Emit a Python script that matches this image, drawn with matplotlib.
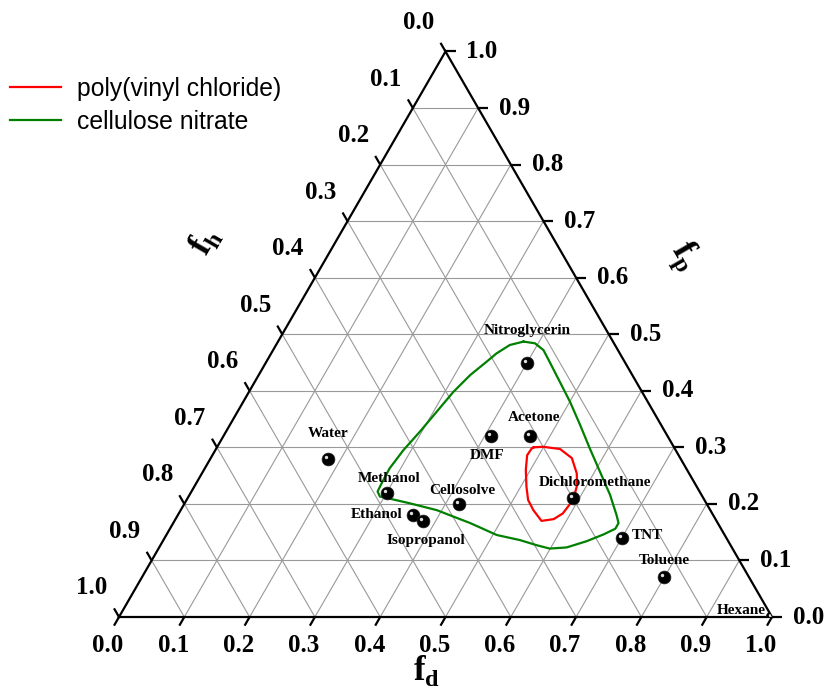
import numpy as np
import matplotlib
matplotlib.use("Agg")
import matplotlib.pyplot as plt
import matplotlib.transforms as mtransforms
from matplotlib.patches import Polygon

# ---------------- data ----------------
solvents = ["Water", "Methanol", "Ethanol", "Isopropanol", "Cellosolve", "DMF",
            "Acetone", "Nitroglycerin", "Dichloromethane", "TNT", "Toluene", "Hexane"]
solv_fd = [0.18, 0.30, 0.36, 0.38, 0.42, 0.41, 0.47, 0.40, 0.59, 0.70, 0.80, 1.00]
solv_fp = [0.28, 0.22, 0.18, 0.17, 0.20, 0.32, 0.32, 0.45, 0.21, 0.14, 0.07, 0.00]

pvc_fd = [0.485, 0.499, 0.527, 0.553, 0.574, 0.585, 0.592, 0.588, 0.579, 0.562,
          0.540, 0.523, 0.509, 0.493, 0.482, 0.483, 0.485]
pvc_fp = [0.300, 0.301, 0.297, 0.281, 0.254, 0.233, 0.207, 0.183, 0.173, 0.170,
          0.189, 0.207, 0.230, 0.260, 0.286, 0.298, 0.300]

cn_fd = [0.376, 0.358, 0.345, 0.337, 0.324, 0.313, 0.305, 0.297, 0.288, 0.283,
         0.284, 0.285, 0.293, 0.311, 0.345, 0.392, 0.455, 0.506, 0.546, 0.576,
         0.599, 0.624, 0.649, 0.669, 0.682, 0.682, 0.672, 0.644, 0.608, 0.572,
         0.536, 0.500, 0.467, 0.434, 0.414, 0.395, 0.376]
cn_fp = [0.487, 0.481, 0.466, 0.451, 0.428, 0.398, 0.363, 0.328, 0.295, 0.263,
         0.236, 0.222, 0.213, 0.209, 0.201, 0.189, 0.166, 0.145, 0.136, 0.127,
         0.121, 0.123, 0.134, 0.146, 0.156, 0.166, 0.180, 0.216, 0.257, 0.298,
         0.340, 0.381, 0.416, 0.451, 0.472, 0.484, 0.487]

series_names = ["poly(vinyl chloride)", "cellulose nitrate"]
tick_values = [0.0, 0.1, 0.2, 0.3, 0.4, 0.5, 0.6, 0.7, 0.8, 0.9, 1.0]
tick_labels = ["0.0", "0.1", "0.2", "0.3", "0.4", "0.5", "0.6", "0.7", "0.8", "0.9", "1.0"]

# label placement (offset in pixels, alignment)
label_style = {
    "Water": ((0, 25), "center"),
    "Methanol": ((2, 14), "center"),
    "Ethanol": ((-10, 1), "right"),
    "Isopropanol": ((3, -20), "center"),
    "Cellosolve": ((4, 13), "center"),
    "DMF": ((-4, -19), "center"),
    "Acetone": ((4, 19), "center"),
    "Nitroglycerin": ((0, 32), "center"),
    "Dichloromethane": ((22, 16), "center"),
    "TNT": ((10, 2), "left"),
    "Toluene": ((0, 17), "center"),
    "Hexane": ((-6, 7), "right"),
}

# ---------------- helpers ----------------
S3 = np.sqrt(3) / 2


def tern(fd, fp):
    fd = np.asarray(fd, float)
    fp = np.asarray(fp, float)
    return fd + fp / 2.0, fp * S3


SERIF = ["Liberation Serif", "DejaVu Serif"]
SANS = ["Liberation Sans", "DejaVu Sans"]
plt.rcParams["mathtext.fontset"] = "custom"
plt.rcParams["mathtext.bf"] = "Liberation Serif:bold"
plt.rcParams["mathtext.rm"] = "Liberation Serif:bold"

W, Hpx = 825, 689
fig = plt.figure(figsize=(W / 100, Hpx / 100), dpi=100)
side = 653.0
ax = fig.add_axes([119 / W, 72 / Hpx, side / W, side * S3 / Hpx])
ax.set_xlim(0, 1)
ax.set_ylim(0, S3)
ax.axis("off")

px = 1.0 / side  # one pixel in data units

# grid
grid_kw = dict(color="#999999", lw=0.8, zorder=1)
for c in tick_values[1:-1]:
    x, y = tern([0, 1 - c], [c, c])          # constant fp
    ax.plot(x, y, **grid_kw)
    x, y = tern([c, c], [0, 1 - c])          # constant fd
    ax.plot(x, y, **grid_kw)
    x, y = tern([0, 1 - c], [1 - c, 0])      # constant fh
    ax.plot(x, y, **grid_kw)

# triangle outline
tri_x, tri_y = tern([0, 1, 0, 0], [0, 0, 1, 0])
ax.plot(tri_x, tri_y, color="black", lw=1.6, zorder=3, solid_joinstyle="miter",
        clip_on=False)
tri_patch = Polygon(np.column_stack(tern([0, 1, 0], [0, 0, 1])), closed=True,
                    transform=ax.transData, fill=False, edgecolor="none")
ax.add_patch(tri_patch)

tl = 10 * px
tick_kw = dict(color="black", lw=1.6, zorder=3, clip_on=False, solid_capstyle="butt")
lab_kw = dict(fontsize=18, fontweight="bold", family=SERIF, textcoords="offset pixels")
for v, lab in zip(tick_values, tick_labels):
    # fd ticks (bottom)
    x0, y0 = tern(v, 0)
    ax.plot([x0, x0 - 0.5 * tl], [y0, y0 - S3 * tl], **tick_kw)
    ax.annotate(lab, (x0, y0), xytext=(-11, -28), ha="center", va="center", **lab_kw)
    # fp ticks (right side)
    x0, y0 = tern(1 - v, v)
    ax.plot([x0, x0 + tl], [y0, y0], **tick_kw)
    ax.annotate(lab, (x0, y0), xytext=(21, 0), ha="left", va="center", **lab_kw)
    # fh ticks (left side)
    x0, y0 = tern(0, 1 - v)
    ax.plot([x0, x0 - 0.5 * tl], [y0, y0 + S3 * tl], **tick_kw)
    ax.annotate(lab, (x0, y0), xytext=(-27, 29), ha="center", va="center", **lab_kw)

# contours
px_, py_ = tern(pvc_fd, pvc_fp)
l1, = ax.plot(px_, py_, color="#ff0000", lw=1.6, zorder=4)
cx_, cy_ = tern(cn_fd, cn_fp)
l2, = ax.plot(cx_, cy_, color="#008000", lw=1.6, zorder=4)

# solvents
sx, sy = tern(solv_fd, solv_fp)
balls = ax.scatter(sx, sy, s=85, color="black", edgecolor="#222222", lw=0.5, zorder=5)
balls.set_clip_path(tri_patch)
hl_tr = mtransforms.offset_copy(ax.transData, fig=fig, x=-2, y=2, units="dots")
hl = ax.scatter(sx, sy, s=6, color="#e0e0e0", lw=0, zorder=6, transform=hl_tr)
hl.set_clip_path(tri_patch)
for name, x, y in zip(solvents, sx, sy):
    off, ha = label_style[name]
    ax.annotate(name, (x, y), xytext=off, textcoords="offset pixels", ha=ha,
                va="center", fontsize=11, fontweight="bold", family=SERIF, zorder=7)

# axis titles
fig.text(427 / W, 1 - 671 / Hpx, r"$\mathbf{f}_\mathbf{d}$", fontsize=25,
         ha="center", va="center")
fig.text(205 / W, 1 - 241 / Hpx, r"$\mathbf{f}_\mathbf{h}$", fontsize=25,
         ha="center", va="center", rotation=60, rotation_mode="anchor")
fig.text(684 / W, 1 - 257 / Hpx, r"$\mathbf{f}_\mathbf{p}$", fontsize=25,
         ha="center", va="center", rotation=-60, rotation_mode="anchor")

# legend
fig.legend([l1, l2], series_names, loc="upper left",
           bbox_to_anchor=(10 / W, 1 - 77 / Hpx), frameon=False,
           prop={"family": SANS, "size": 17.8}, handlelength=2.05,
           handletextpad=0.68, labelspacing=0.36, borderpad=0, borderaxespad=0)

fig.savefig("out.png", dpi=100)
